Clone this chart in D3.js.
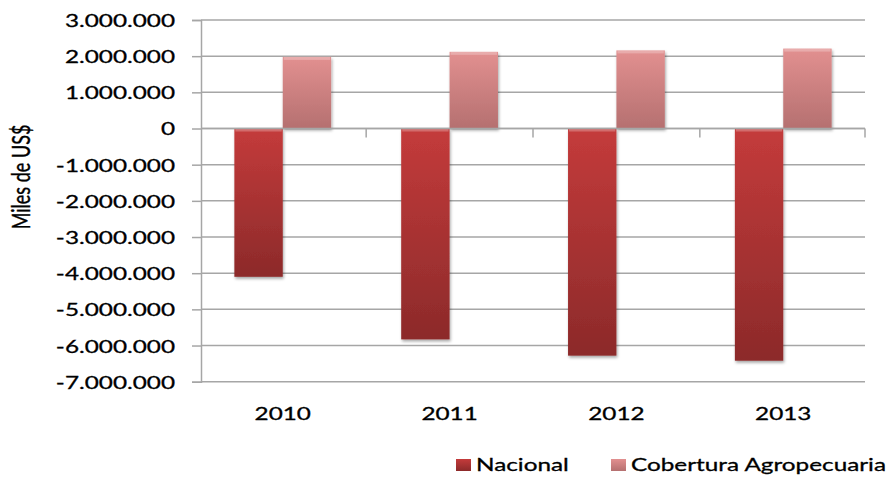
<!DOCTYPE html>
<html>
<head>
<meta charset="utf-8">
<script src="https://cdn.jsdelivr.net/npm/d3@7"></script>
<style>
  html, body { margin: 0; padding: 0; background: #fff; }
  svg text { font-family: Lato, "Open Sans", sans-serif; fill: #000; stroke: #000; stroke-width: 0.3px; }
</style>
</head>
<body>
<svg id="chart" width="896" height="478"></svg>
<script>
// data
var years = ['2010', '2011', '2012', '2013'];
var seriesNames = ['Nacional', 'Cobertura Agropecuaria'];
var nacional = [-4100000, -5830000, -6280000, -6420000];
var cobertura = [1980000, 2120000, 2160000, 2210000];
var yTicks = [3000000, 2000000, 1000000, 0, -1000000, -2000000, -3000000, -4000000, -5000000, -6000000, -7000000];

var SX = 1.35; // the original text is stretched sideways
var plotLeft = 201, plotRight = 865, plotTop = 20, plotBottom = 381.7;

var svg = d3.select('#chart');

var defs = svg.append('defs');
function grad(id, c1, c2) {
    var g = defs.append('linearGradient').attr('id', id)
        .attr('x1', 0).attr('y1', 0).attr('x2', 0).attr('y2', 1);
    g.append('stop').attr('offset', '0%').attr('stop-color', c1);
    g.append('stop').attr('offset', '100%').attr('stop-color', c2);
}
grad('gNac', '#c43b3b', '#8c2a2a');
grad('gCob', '#e29090', '#b57070');
defs.append('filter').attr('id', 'shadow')
    .attr('x', '-20%').attr('y', '-10%').attr('width', '140%').attr('height', '130%')
  .append('feDropShadow')
    .attr('dx', 1).attr('dy', 2).attr('stdDeviation', 1.5)
    .attr('flood-color', '#000').attr('flood-opacity', 0.35);

var y = d3.scaleLinear().domain([-7000000, 3000000]).range([plotBottom, plotTop]);
var x = d3.scaleBand().domain(years).range([plotLeft, plotRight])
    .paddingInner(0.42).paddingOuter(0.2);
var xs = d3.scaleBand().domain(seriesNames).range([0, x.bandwidth()]);

function fmt(v) {
    return d3.format(',')(v).replace(/,/g, '.').replace('\u2212', '-');
}

// gridlines
svg.append('g').selectAll('line').data(yTicks).enter().append('line')
    .attr('x1', plotLeft).attr('x2', plotRight)
    .attr('y1', function(d) { return y(d); })
    .attr('y2', function(d) { return y(d); })
    .attr('stroke', '#a6a6a6').attr('stroke-width', 1.5);

// y axis
var yAxis = svg.append('g').attr('transform', 'translate(' + plotLeft + ',0)')
    .call(d3.axisLeft(y).tickValues(yTicks).tickSize(9).tickFormat(fmt));
yAxis.select('.domain').attr('stroke', '#a6a6a6').attr('stroke-width', 1.5);
yAxis.selectAll('.tick line').attr('stroke', '#a6a6a6').attr('stroke-width', 1.5);
yAxis.selectAll('.tick text')
    .attr('x', 0)
    .attr('dy', '0.36em')
    .attr('transform', 'translate(-26,0) scale(' + SX + ',1)')
    .style('font-size', '18px')
    .style('font-family', 'Lato, sans-serif');

// bars
var rows = years.map(function(yr, i) {
    return { year: yr, vals: [{ s: seriesNames[0], v: nacional[i] }, { s: seriesNames[1], v: cobertura[i] }] };
});
var groups = svg.append('g').selectAll('g').data(rows).enter().append('g')
    .attr('transform', function(d) { return 'translate(' + x(d.year) + ',0)'; });
groups.selectAll('rect.bar').data(function(d) { return d.vals; }).enter().append('rect')
    .attr('class', 'bar')
    .attr('x', function(d) { return xs(d.s); })
    .attr('width', xs.bandwidth())
    .attr('y', function(d) { return y(Math.max(0, d.v)); })
    .attr('height', function(d) { return Math.abs(y(d.v) - y(0)); })
    .attr('fill', function(d) { return d.s === 'Nacional' ? 'url(#gNac)' : 'url(#gCob)'; })
    .attr('filter', 'url(#shadow)');
// bevel highlight on the top edge
groups.selectAll('rect.hi').data(function(d) { return d.vals; }).enter().append('rect')
    .attr('class', 'hi')
    .attr('x', function(d) { return xs(d.s) + 1; })
    .attr('width', xs.bandwidth() - 2)
    .attr('y', function(d) { return y(Math.max(0, d.v)); })
    .attr('height', 3)
    .attr('fill', '#fff').attr('opacity', 0.25);

// zero axis with category ticks
var xAxis = svg.append('g').attr('transform', 'translate(0,' + y(0) + ')');
xAxis.append('line').attr('x1', plotLeft).attr('x2', plotRight)
    .attr('stroke', '#a6a6a6').attr('stroke-width', 1.5);
var bounds = years.slice(1).map(function(yr) { return x(yr) - x.step() * x.paddingInner() / 2; }).concat([plotRight]);
xAxis.selectAll('line.tk').data(bounds).enter().append('line')
    .attr('class', 'tk')
    .attr('x1', function(d) { return d; }).attr('x2', function(d) { return d; })
    .attr('y1', 0).attr('y2', 9)
    .attr('stroke', '#a6a6a6').attr('stroke-width', 1.5);

// year labels at the bottom
svg.append('g').selectAll('text').data(years).enter().append('text')
    .attr('transform', function(d) {
        return 'translate(' + (x(d) + x.bandwidth() / 2) + ',420) scale(' + SX + ',1)';
    })
    .attr('text-anchor', 'middle')
    .style('font-size', '18px')
    .text(function(d) { return d; });

// y title
svg.append('text')
    .attr('transform', 'translate(30,177) rotate(-90) scale(1,' + SX + ')')
    .attr('text-anchor', 'middle')
    .style('font-size', '18px')
    .text('Miles de US$');

// legend
var legend = [
    { name: 'Nacional', fill: 'url(#gNac)', x: 456 },
    { name: 'Cobertura Agropecuaria', fill: 'url(#gCob)', x: 611 }
];
var lg = svg.append('g').selectAll('g').data(legend).enter().append('g')
    .attr('transform', function(d) { return 'translate(' + d.x + ',0)'; });
lg.append('rect').attr('x', 0).attr('y', 459).attr('width', 15).attr('height', 12)
    .attr('fill', function(d) { return d.fill; });
lg.append('text')
    .attr('transform', 'translate(20,471) scale(' + SX + ',1)')
    .style('font-size', '18px')
    .text(function(d) { return d.name; });
</script>
</body>
</html>
